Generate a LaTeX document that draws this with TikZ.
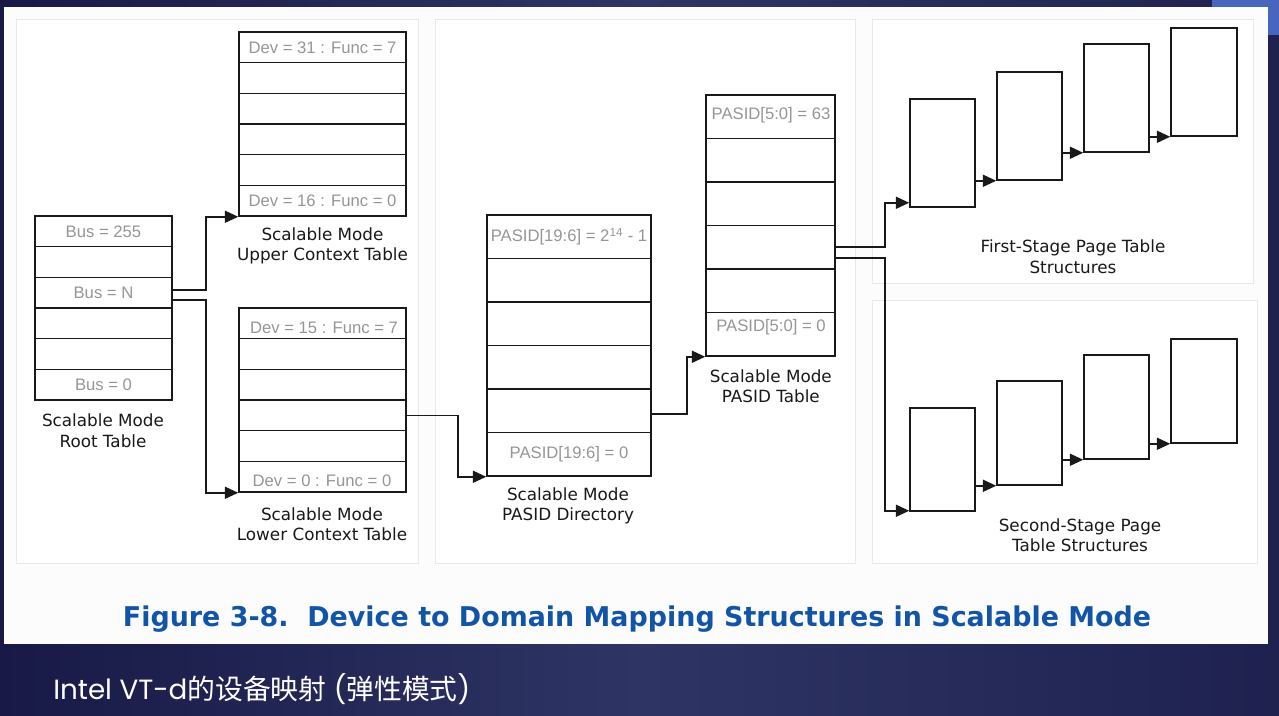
\documentclass[tikz,border=0pt]{standalone}
\usepackage{fontspec}
\usepackage{graphicx}
\usetikzlibrary{arrows.meta,calc}
\setmainfont{DejaVu Sans}
\newfontfamily\lblfont{Liberation Sans}
\newfontfamily\capfont{DejaVu Sans}
\newfontfamily\ttlfont{DejaVu Sans}
\newfontfamily\popfont{Poppins}
\newfontfamily\cjkfont{Noto Sans CJK SC}
\definecolor{navyA}{RGB}{24,25,70}
\definecolor{navyB}{RGB}{46,53,100}
\definecolor{topblue}{RGB}{72,102,190}
\definecolor{paneledge}{RGB}{232,232,232}
\definecolor{pagewhite}{RGB}{252,252,252}
\definecolor{lblgray}{RGB}{150,150,150}
\definecolor{ttlblue}{RGB}{18,84,165}
\definecolor{linecol}{RGB}{25,25,25}
\begin{document}
\begin{tikzpicture}[x=0.75pt,y=-0.75pt,
  cell/.style={draw=linecol,line width=1.15pt,fill=white,inner sep=0pt,
    font=\lblfont\fontsize{12.5}{14}\selectfont,text=lblgray},
  lbl/.style={inner sep=0pt,font=\lblfont\fontsize{12.5}{14}\selectfont,text=lblgray},
  pbox/.style={draw=linecol,line width=1.15pt,fill=white,inner sep=0pt,minimum width=65*0.75pt},
  captext/.style={inner sep=0pt,align=center,text=black!90,font=\capfont\fontsize{12.6}{15.2}\selectfont},
  arr/.style={draw=linecol,line width=1.15pt,-{Triangle[length=10pt,width=9pt]}},
  panel/.style={draw=paneledge,line width=0.6pt,fill=white}
]
\useasboundingbox (0,0) rectangle (1279,716);
% background
\shade[left color=navyA,right color=navyA!70!navyB,middle color=navyB] (0,0) rectangle (1279,716);
\fill[topblue] (1212,0) rectangle (1279,35);
\fill[pagewhite] (4,7) rectangle (1268,644);
% panels
\draw[panel] (16,19) rectangle (418,563);
\draw[panel] (435,19) rectangle (855,563);
\draw[panel] (872,19) rectangle (1253,283);
\draw[panel] (872,300) rectangle (1257,563);

% root table
\foreach \i/\t in {1/Bus = 255,2/,3/Bus = N,4/,5/,6/Bus = 0}
  \node[cell,minimum width=137*0.75pt,minimum height=30.667*0.75pt] (root\i) at (103.5,{216+30.667*(\i-0.5)}) {\t};
\node[captext] (rootcap) at (103,430.7) {Scalable Mode\\Root Table};

% upper context table
\foreach \i/\t in {1/Dev = 31 : Func = 7,2/,3/,4/,5/,6/Dev = 16 : Func = 0}
  \node[cell,minimum width=167*0.75pt,minimum height=30.667*0.75pt] (upper\i) at (322.5,{32+30.667*(\i-0.5)}) {\t};
\node[captext] (uppercap) at (322.5,245.8) {Scalable Mode\\Upper Context Table};

% lower context table
\foreach \i in {1,...,6}
  \node[cell,minimum width=167*0.75pt,minimum height=30.667*0.75pt] (lower\i) at (322.5,{308+30.667*(\i-0.5)}) {};
\node[lbl] (lowerl1) at (324,328) {Dev = 15 : Func = 7};
\node[lbl] (lowerl6) at (322,481) {Dev = 0 : Func = 0};
\node[captext] (lowercap) at (322,524) {Scalable Mode\\Lower Context Table};

% PASID directory
\foreach \i/\t in {1/PASID[19:6] = 2\textsuperscript{14} - 1,2/,3/,4/,5/,6/PASID[19:6] = 0}
  \node[cell,minimum width=164*0.75pt,minimum height=43.5*0.75pt] (pdir\i) at (569,{215+43.5*(\i-0.5)}) {\t};
\node[captext] (pdircap) at (568,506) {Scalable Mode\\PASID Directory};

% PASID table
\foreach \i in {1,...,6}
  \node[cell,minimum width=129*0.75pt,minimum height=43.5*0.75pt] (ptab\i) at (770.5,{95+43.5*(\i-0.5)}) {};
\node[lbl] (ptabl1) at (771,115) {PASID[5:0] = 63};
\node[lbl] (ptabl6) at (771,327) {PASID[5:0] = 0};
\node[captext] (ptabcap) at (770.8,386) {Scalable Mode\\PASID Table};

% first-stage page tables
\node[pbox,minimum height=108*0.75pt] (fs1) at (942.5,153) {};
\node[pbox,minimum height=108*0.75pt] (fs2) at (1029.5,126) {};
\node[pbox,minimum height=108*0.75pt] (fs3) at (1116.5,98) {};
\node[pbox,minimum height=108*0.75pt,minimum width=66*0.75pt] (fs4) at (1204,82) {};
\node[captext] (fscap) at (1073,256.7) {First-Stage Page Table\\Structures};

% second-stage page tables
\node[pbox,minimum height=103*0.75pt] (ss1) at (942.5,459.5) {};
\node[pbox,minimum height=104*0.75pt] (ss2) at (1029.5,433) {};
\node[pbox,minimum height=104*0.75pt] (ss3) at (1116.5,407) {};
\node[pbox,minimum height=104*0.75pt,minimum width=66*0.75pt] (ss4) at (1204,391) {};
\node[captext] (sscap) at (1080,535) {Second-Stage Page\\Table Structures};

% connectors
\draw[arr] ([yshift=2pt]root3.east) -- ++(33,0) |- (upper6.south west);
\draw[arr] ([yshift=-5.5pt]root3.east) -- ++(33,0) |- (lower6.south west);
\draw[arr] (lower4.east) -- ++(51,0) |- (pdir6.south west);
\draw[arr] ([yshift=-2.4pt]pdir5.east) -- ++(35,0) |- (ptab6.south west);
\draw[arr] (ptab4.east) -- ++(49,0) |- ([yshift=3.75pt]fs1.south west);
\draw[arr] ([yshift=-8pt]ptab4.east) -- ++(49,0) |- ([yshift=0.75pt]ss1.south west);
\draw[arr] (fs1.east |- fs2.south west) -- (fs2.south west);
\draw[arr] (fs2.east |- fs3.south west) -- (fs3.south west);
\draw[arr] (fs3.east |- fs4.south west) -- (fs4.south west);
\draw[arr] (ss1.east |- ss2.south west) -- (ss2.south west);
\draw[arr] (ss2.east |- ss3.south west) -- (ss3.south west);
\draw[arr] (ss3.east |- ss4.south west) -- (ss4.south west);

% title and subtitle
\node[anchor=base,text=ttlblue,inner sep=0pt] (title) at (637,627)
  {\resizebox{771pt}{15.5pt}{\ttlfont\bfseries Figure 3-8.\ \ Device to Domain Mapping Structures in Scalable Mode}};
\node[anchor=base west,text=white,inner sep=0pt] (sub) at (53,699)
  {\resizebox{312.75pt}{!}{\popfont\fontsize{20}{24}\selectfont Intel VT-d{\cjkfont 的设备映射} ({\cjkfont 弹性模式})}};
\end{tikzpicture}
\end{document}
